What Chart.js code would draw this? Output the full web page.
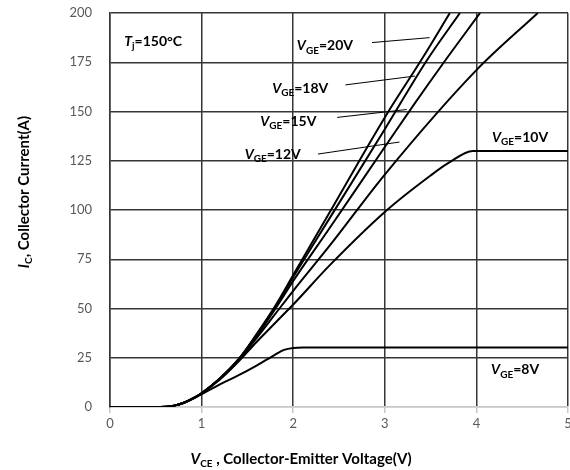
<!DOCTYPE html>
<html>
<head>
<meta charset="utf-8">
<script src="https://cdn.jsdelivr.net/npm/chart.js@4/dist/chart.umd.min.js"></script>
<style>
  html, body { margin: 0; padding: 0; background: #fff; }
  #wrap { width: 570px; height: 470px; }
</style>
</head>
<body>
<div id="wrap"><canvas id="chart" width="570" height="470"></canvas></div>
<script>
// Output characteristics, Tj = 150 C
// each curve: collector-emitter voltage (V) and collector current (A)
const vge20V = [0, 0.55, 0.7, 0.8, 0.9, 1.0, 1.2, 1.4, 1.6, 1.8, 2.0, 2.4, 3.0, 3.41, 3.71];
const vge20I = [0, 0, 0.7, 2, 4.2, 7, 14.5, 24, 37, 51, 67, 99, 147, 177, 200];

const vge18V = [0, 0.55, 0.7, 0.8, 0.9, 1.0, 1.2, 1.4, 1.6, 1.8, 2.0, 2.4, 3.0, 3.46, 3.82];
const vge18I = [0, 0, 0.7, 2, 4.2, 7, 14.5, 24, 36.5, 50.5, 66, 96, 141, 176, 200];

const vge15V = [0, 0.55, 0.7, 0.8, 0.9, 1.0, 1.2, 1.4, 1.6, 1.8, 2.0, 2.4, 3.0, 3.31, 3.63, 4.04];
const vge15I = [0, 0, 0.7, 2, 4.2, 7, 14.5, 24, 36, 49.5, 64, 91, 132, 153, 174, 200];

const vge12V = [0, 0.55, 0.7, 0.8, 0.9, 1.0, 1.2, 1.4, 1.6, 1.8, 2.0, 2.4, 3.0, 4.0, 4.67];
const vge12I = [0, 0, 0.7, 2, 4.2, 7, 14.5, 23.5, 35, 47, 59, 82, 118, 171, 200];

const vge10V = [0, 0.55, 0.7, 0.8, 0.9, 1.0, 1.2, 1.4, 1.6, 1.8, 2.0, 2.4, 3.0, 3.5, 3.7, 3.96, 5];
const vge10I = [0, 0, 0.7, 2, 4.2, 7, 14, 23, 33, 42.5, 52, 72, 99, 117.5, 124, 130, 130];

const vge8V = [0, 0.55, 0.7, 0.8, 0.9, 1.0, 1.2, 1.4, 1.6, 1.8, 1.9, 2.0, 2.1, 5];
const vge8I = [0, 0, 0.7, 2, 4, 6.5, 11.5, 16, 21, 26.5, 29, 30, 30.2, 30.2];

const xTicks = [0, 1, 2, 3, 4, 5];
const yTicks = [0, 25, 50, 75, 100, 125, 150, 175, 200];

const curves = [
  [vge20V, vge20I], [vge18V, vge18I], [vge15V, vge15I],
  [vge12V, vge12I], [vge10V, vge10I], [vge8V, vge8I]
];

const FONT = 'Lato, "Open Sans", sans-serif';

// draw text made of parts: {t, it (italic), sub (subscript)}
function drawRich(ctx, parts, x, y, size, align) {
  const subSize = Math.round(size * 0.68);
  const fontOf = p => (p.it ? 'italic ' : '') + 'bold ' + (p.sub ? subSize : size) + 'px ' + FONT;
  let w = 0;
  parts.forEach(p => { ctx.font = fontOf(p); w += ctx.measureText(p.t).width; });
  let cx = align === 'center' ? x - w / 2 : x;
  ctx.textAlign = 'left';
  ctx.textBaseline = 'alphabetic';
  parts.forEach(p => {
    ctx.font = fontOf(p);
    ctx.fillText(p.t, cx, p.sub ? y + size * 0.22 : y);
    cx += ctx.measureText(p.t).width;
  });
}

const vge = n => [{ t: 'V', it: true }, { t: 'GE', sub: true }, { t: '=' + n + 'V' }];

// label anchors in data units (left edge, baseline) and pointer lines
const labels = [
  { parts: [{ t: 'T', it: true }, { t: 'j', sub: true }, { t: '=150°C' }], x: 0.155, y: 183.5 },
  { parts: vge(20), x: 2.04, y: 181 },
  { parts: vge(18), x: 1.77, y: 159.5 },
  { parts: vge(15), x: 1.64, y: 142.5 },
  { parts: vge(12), x: 1.47, y: 126 },
  { parts: vge(10), x: 4.17, y: 134.5 },
  { parts: vge(8), x: 4.16, y: 16.5 }
];
const pointers = [
  [2.86, 185, 3.49, 187.5],
  [2.57, 163.5, 3.33, 168],
  [2.48, 147, 3.24, 151],
  [2.27, 128.4, 3.16, 134.5]
];

const annot = {
  id: 'annot',
  afterDatasetsDraw(chart) {
    const { ctx, scales: { x, y } } = chart;
    ctx.save();
    ctx.fillStyle = '#000';
    labels.forEach(l => drawRich(ctx, l.parts, x.getPixelForValue(l.x), y.getPixelForValue(l.y), 14, 'left'));
    ctx.strokeStyle = '#000';
    ctx.lineWidth = 1;
    pointers.forEach(p => {
      ctx.beginPath();
      ctx.moveTo(x.getPixelForValue(p[0]), y.getPixelForValue(p[1]));
      ctx.lineTo(x.getPixelForValue(p[2]), y.getPixelForValue(p[3]));
      ctx.stroke();
    });
    // axis titles
    drawRich(ctx, [{ t: 'V', it: true }, { t: 'CE', sub: true }, { t: ' , Collector-Emitter Voltage(V)' }], 301, 464, 15, 'center');
    ctx.translate(29, 192);
    ctx.rotate(-Math.PI / 2);
    drawRich(ctx, [{ t: 'I', it: true }, { t: 'C', sub: true }, { t: ', Collector Current(A)' }], 0, 0, 15, 'center');
    ctx.restore();
  }
};

const datasets = curves.map(c => ({
  data: c[0].map((v, i) => ({ x: v, y: c[1][i] })),
  showLine: true,
  borderColor: '#000',
  borderWidth: 2,
  pointRadius: 0,
  cubicInterpolationMode: 'monotone',
  fill: false
}));

const gridDark = '#363636';
const gridLight = '#c8c8c8';

new Chart(document.getElementById('chart'), {
  type: 'scatter',
  data: { datasets: datasets },
  plugins: [annot],
  options: {
    responsive: false,
    animation: false,
    layout: { autoPadding: false, padding: { top: 13, right: 2, left: 0, bottom: 0 } },
    plugins: { legend: { display: false }, tooltip: { enabled: false } },
    scales: {
      x: {
        type: 'linear',
        min: 0,
        max: 5,
        afterBuildTicks: s => { s.ticks = xTicks.map(v => ({ value: v })); },
        // pin the plot area to the reference frame
        afterFit: s => { s.height = 63; s.paddingLeft = 0; s.paddingRight = 0; },
        ticks: { color: '#595959', font: { family: FONT, size: 13 }, padding: 3 },
        grid: { color: gridDark, lineWidth: 1.5, tickLength: 6, tickColor: gridLight, tickWidth: 1.5 },
        border: { color: gridLight, width: 1.5 }
      },
      y: {
        min: 0,
        max: 200,
        afterBuildTicks: s => { s.ticks = yTicks.map(v => ({ value: v })); },
        afterFit: s => { s.width = 110; s.paddingTop = 0; s.paddingBottom = 0; },
        ticks: { color: '#595959', font: { family: FONT, size: 13 }, padding: 18 },
        grid: {
          color: c => (c.tick && c.tick.value === 0 ? gridLight : gridDark),
          lineWidth: 1.5,
          drawTicks: false
        },
        border: { color: gridDark, width: 1.5 }
      }
    }
  }
});
</script>
</body>
</html>
